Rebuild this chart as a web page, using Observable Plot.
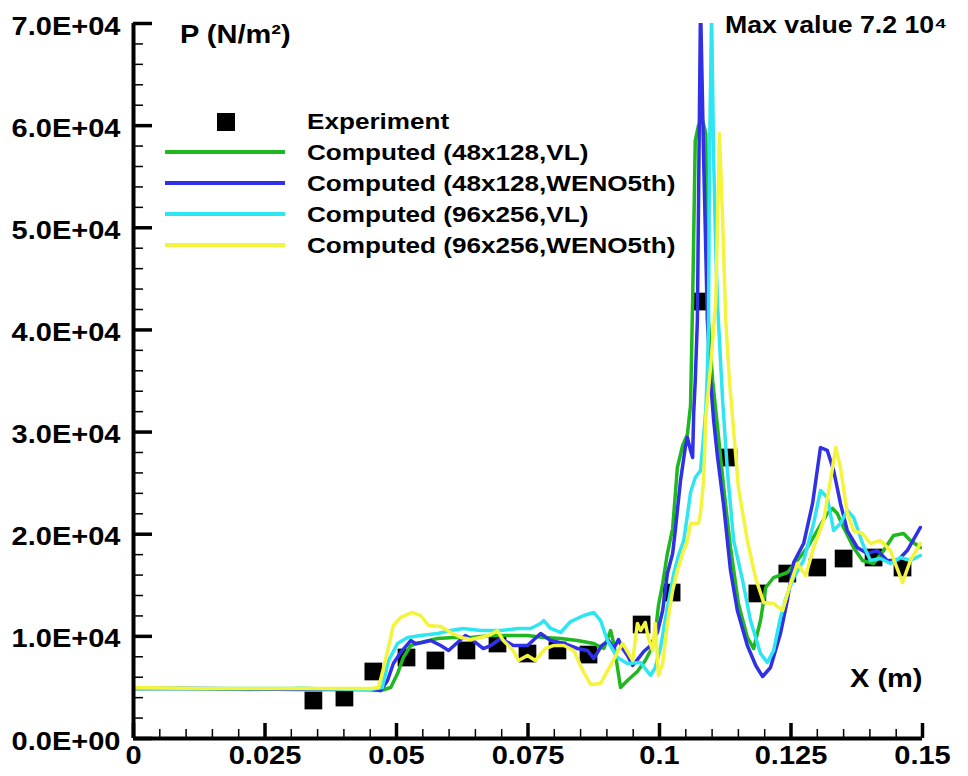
<!DOCTYPE html>
<html><head><meta charset="utf-8">
<script src="https://cdn.jsdelivr.net/npm/d3@7"></script>
<script src="https://cdn.jsdelivr.net/npm/@observablehq/plot@0.6"></script>
<style>body{margin:0;background:#fff}#chart{width:968px;height:776px}</style>
</head><body><div id="chart"></div>
<script>
// ---- data (x in m, P in N/m^2) ----
const xTickValues = [0, 0.025, 0.05, 0.075, 0.1, 0.125, 0.15];
const xTickLabels = ["0", "0.025", "0.05", "0.075", "0.1", "0.125", "0.15"];
const yTickValues = [0, 10000, 20000, 30000, 40000, 50000, 60000, 70000];
const yTickLabels = ["0.0E+00", "1.0E+04", "2.0E+04", "3.0E+04", "4.0E+04", "5.0E+04", "6.0E+04", "7.0E+04"];

const seriesNames = ["Experiment", "Computed (48x128,VL)", "Computed (48x128,WENO5th)", "Computed (96x256,VL)", "Computed (96x256,WENO5th)"];
const seriesColors = ["#000000", "#1fb81f", "#3030e6", "#2ee6f2", "#f4f43c"];

const experiment = [[0.0342,3720],[0.0401,4010],[0.0456,6560],[0.0519,7930],[0.0574,7640],[0.0633,8620],[0.0692,9300],[0.0749,8320],[0.0806,8620],[0.0865,8220],[0.0966,11160],[0.1023,14290],[0.1078,42780],[0.1131,27510],[0.1186,14200],[0.1243,16150],[0.1300,16740],[0.1350,17620],[0.1407,17720],[0.1462,16740]];

const vl48 = [[0,4900],[0.0089,4900],[0.0222,4800],[0.0318,4900],[0.0451,4800],[0.0470,4700],[0.0489,4990],[0.0502,6360],[0.0513,7930],[0.0527,9100],[0.0546,9400],[0.0578,9790],[0.0608,9890],[0.0641,9890],[0.0679,10080],[0.0717,10080],[0.0749,10080],[0.0780,9890],[0.0812,9790],[0.0844,9590],[0.0875,9300],[0.0894,8810],[0.0907,10570],[0.0913,9300],[0.0926,4990],[0.0939,5680],[0.0958,6560],[0.0973,7640],[0.0983,8620],[0.0992,10280],[0.0998,13020],[0.1006,15170],[0.1015,18110],[0.1025,20560],[0.1034,26530],[0.1044,28690],[0.1053,29760],[0.1059,32600],[0.1063,42880],[0.1068,58540],[0.1074,60010],[0.1082,60500],[0.1088,59230],[0.1093,40920],[0.1101,35050],[0.1110,30640],[0.1122,24570],[0.1135,18700],[0.1150,13220],[0.1167,9890],[0.1179,8810],[0.1192,11550],[0.1202,14780],[0.1217,15760],[0.1243,16250],[0.1262,17430],[0.1281,18700],[0.1300,20360],[0.1319,22030],[0.1329,22520],[0.1338,22030],[0.1350,20660],[0.1369,18700],[0.1386,17430],[0.1407,17130],[0.1426,18400],[0.1445,19870],[0.1464,20070],[0.1477,19380],[0.1496,18700]];

const weno48 = [[0,4900],[0.0127,4900],[0.0318,4800],[0.0451,4800],[0.0470,4700],[0.0483,5680],[0.0494,7340],[0.0508,8420],[0.0527,9590],[0.0536,9300],[0.0549,9400],[0.0565,9590],[0.0584,9100],[0.0599,8620],[0.0616,9400],[0.0631,10080],[0.0646,9590],[0.0665,8810],[0.0679,9100],[0.0698,9790],[0.0722,9100],[0.0749,9100],[0.0774,10280],[0.0793,9590],[0.0818,9300],[0.0844,8810],[0.0863,8620],[0.0875,7830],[0.0890,9100],[0.0903,9590],[0.0913,8810],[0.0922,9690],[0.0930,8810],[0.0939,8130],[0.0949,7150],[0.0958,7730],[0.0970,8520],[0.0983,9100],[0.0996,10380],[0.1006,12530],[0.1015,16150],[0.1025,18110],[0.1030,20360],[0.1040,25260],[0.1049,28490],[0.1053,29470],[0.1059,28200],[0.1063,27510],[0.1065,31820],[0.1068,35050],[0.1072,40920],[0.1075,56590],[0.1078,72000],[0.1084,56590],[0.1088,47780],[0.1091,40920],[0.1097,35050],[0.1103,31130],[0.1110,27710],[0.1122,22810],[0.1135,16450],[0.1148,12530],[0.1167,9100],[0.1183,7150],[0.1196,6070],[0.1211,6950],[0.1230,10280],[0.1243,13510],[0.1255,17230],[0.1274,19090],[0.1291,23010],[0.1306,28490],[0.1319,28200],[0.1331,26240],[0.1344,23010],[0.1357,20360],[0.1376,18700],[0.1395,18110],[0.1414,18400],[0.1433,17430],[0.1453,17430],[0.1471,18400],[0.1496,20660]];

const vl96 = [[0,4900],[0.0127,4900],[0.0318,4900],[0.0451,4800],[0.0473,4990],[0.0485,7640],[0.0502,9300],[0.0521,9890],[0.0546,10080],[0.0578,10280],[0.0603,10570],[0.0627,10770],[0.0660,10570],[0.0679,10570],[0.0698,10570],[0.0730,10770],[0.0755,10770],[0.0774,11260],[0.0780,11550],[0.0793,10770],[0.0812,10380],[0.0831,11450],[0.0856,12040],[0.0875,12340],[0.0888,11550],[0.0901,9590],[0.0920,7930],[0.0939,7340],[0.0964,7440],[0.0983,6170],[0.0992,6950],[0.1002,8910],[0.1015,12830],[0.1027,16150],[0.1036,17920],[0.1046,19380],[0.1053,21830],[0.1059,24080],[0.1068,25550],[0.1078,26240],[0.1082,28490],[0.1088,32110],[0.1091,36030],[0.1093,39650],[0.1095,56590],[0.1099,71000],[0.1103,56590],[0.1107,47780],[0.1110,42880],[0.1120,33090],[0.1129,26240],[0.1141,19380],[0.1158,15470],[0.1173,11550],[0.1192,8320],[0.1205,7440],[0.1217,8620],[0.1230,11850],[0.1240,13710],[0.1255,15760],[0.1274,17430],[0.1293,21050],[0.1306,24280],[0.1319,23590],[0.1331,20360],[0.1344,21050],[0.1357,22320],[0.1369,21640],[0.1386,19090],[0.1401,17430],[0.1420,17620],[0.1439,17130],[0.1458,17720],[0.1477,17430],[0.1496,17920]];

const weno96 = [[0,4990],[0.0127,4900],[0.0318,4900],[0.0451,4900],[0.0466,4990],[0.0479,7640],[0.0494,11060],[0.0508,11850],[0.0530,12340],[0.0546,12040],[0.0561,11060],[0.0584,10960],[0.0603,10380],[0.0622,9890],[0.0641,9690],[0.0660,9890],[0.0679,10180],[0.0692,10570],[0.0703,9590],[0.0722,8620],[0.0732,7640],[0.0749,8130],[0.0764,7640],[0.0783,8810],[0.0798,9100],[0.0818,9100],[0.0837,8620],[0.0854,6660],[0.0869,5290],[0.0888,5390],[0.0907,7150],[0.0922,8620],[0.0930,9300],[0.0949,7640],[0.0958,11260],[0.0964,10570],[0.0973,11360],[0.0979,9790],[0.0987,8620],[0.0992,11260],[0.0998,6170],[0.1006,7340],[0.1015,11260],[0.1025,14490],[0.1034,16450],[0.1044,18110],[0.1053,19380],[0.1059,21050],[0.1074,21050],[0.1078,22030],[0.1084,25260],[0.1088,31430],[0.1097,36320],[0.1107,42880],[0.1114,59230],[0.1120,50710],[0.1126,40920],[0.1133,35050],[0.1141,30150],[0.1150,24570],[0.1167,19380],[0.1183,15660],[0.1198,13310],[0.1217,13220],[0.1234,12530],[0.1249,15170],[0.1262,17130],[0.1278,15960],[0.1293,18700],[0.1312,21340],[0.1325,25260],[0.1335,28490],[0.1344,26530],[0.1357,22030],[0.1369,20360],[0.1386,20070],[0.1401,19090],[0.1420,19380],[0.1439,18400],[0.1462,15270],[0.1477,17430],[0.1496,19090]];

const xMinorTicks = d3.range(0, 30.5, 1).map(i => i * 0.005).filter((d, i) => i % 5 !== 0);
const yMinorTicks = d3.range(0, 35.5, 1).map(i => i * 2000).filter((d, i) => i % 5 !== 0);

const FONT = "'Liberation Sans', Arial, Helvetica, sans-serif";
const W = 968, H = 776, ML = 133, MR = 46, MT = 23, MB = 38;
const PW = W - ML - MR, PH = H - MT - MB;

const lineSeries = [vl48, weno48, vl96, weno96];

const chart = Plot.plot({
  width: W, height: H,
  marginLeft: ML, marginRight: MR, marginTop: MT, marginBottom: MB,
  style: {fontFamily: FONT, fontSize: "25px", fontWeight: "bold", background: "white", color: "black", overflow: "visible"},
  x: {domain: [0, 0.15]},
  y: {domain: [0, 70000]},
  marks: [
    Plot.dot(experiment, {x: d => d[0], y: d => d[1], symbol: "square", r: 10, fill: "black", stroke: null}),
    ...lineSeries.map((s, i) => Plot.line(s, {x: d => d[0], y: d => d[1], stroke: seriesColors[i + 1], strokeWidth: 3.5, clip: true})),
    Plot.tickX(xMinorTicks, {x: d => d, insetTop: PH - 9, strokeWidth: 1.5, stroke: "black"}),
    Plot.tickX(xTickValues, {x: d => d, insetTop: PH - 15, strokeWidth: 3.5, stroke: "black"}),
    Plot.tickY(yMinorTicks, {y: d => d, insetRight: PW - 10, strokeWidth: 1.5, stroke: "black"}),
    Plot.tickY(yTickValues, {y: d => d, insetRight: PW - 19, strokeWidth: 3.5, stroke: "black"}),
    Plot.ruleX([0], {strokeWidth: 4, stroke: "black"}),
    Plot.ruleY([0], {strokeWidth: 4, stroke: "black"}),
    Plot.axisX(xTickValues, {tickSize: 0, tickPadding: 8, label: null, tickFormat: d => xTickLabels[xTickValues.indexOf(d)], fontSize: 25, fontWeight: "bold", fill: "black"}),
    Plot.axisY(yTickValues, {tickSize: 0, tickPadding: 13, label: null, dy: 3, tickFormat: d => yTickLabels[yTickValues.indexOf(d)], fontSize: 25, fontWeight: "bold", fill: "black"})
  ]
});
document.getElementById("chart").appendChild(chart);

const svg = d3.select(chart);
const g = svg.append("g").attr("font-family", FONT).attr("font-weight", "bold").attr("fill", "black").attr("text-anchor", "start");
g.append("text").attr("x", 180).attr("y", 43).attr("font-size", 25).text("P (N/m\u00B2)");
g.append("text").attr("x", 725).attr("y", 33).attr("font-size", 23).text("Max value 7.2 10\u2074");
g.append("text").attr("x", 850).attr("y", 687).attr("font-size", 25).text("X (m)");

// legend
const legRows = [122, 152, 183, 214, 245];
const legTextY = [129, 160, 191, 222, 253];
seriesNames.forEach((name, i) => {
  if (i === 0) {
    g.append("rect").attr("x", 217).attr("y", legRows[0] - 9).attr("width", 18).attr("height", 18).attr("fill", "black");
  } else {
    g.append("line").attr("x1", 165).attr("x2", 285).attr("y1", legRows[i]).attr("y2", legRows[i])
      .attr("stroke", seriesColors[i]).attr("stroke-width", 4);
  }
  g.append("text").attr("x", 307).attr("y", legTextY[i]).attr("font-size", 22.5).text(name);
});

// horizontally widen glyphs to match the reference's wide lettering
chart.querySelectorAll("text").forEach(t => {
  const w = t.getComputedTextLength();
  if (w > 0) {
    t.setAttribute("textLength", (w * 1.16).toFixed(1));
    t.setAttribute("lengthAdjust", "spacingAndGlyphs");
  }
});
</script></body></html>
